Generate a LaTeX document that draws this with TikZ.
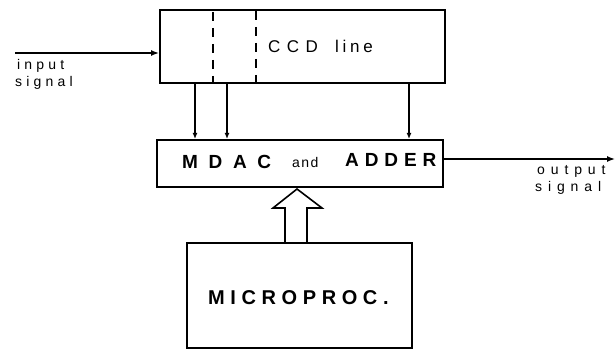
\documentclass[tikz,border=0pt]{standalone}
\usepackage{fontspec}
\setmainfont{Liberation Sans}
\newfontfamily\mdacfam[LetterSpace=56]{Liberation Sans}
\newfontfamily\adderfam[LetterSpace=31]{Liberation Sans}
\newfontfamily\mpbfam[LetterSpace=28]{Liberation Sans}
\newfontfamily\andfam[LetterSpace=10]{Liberation Sans}
\newfontfamily\ccdfam[LetterSpace=38]{Liberation Sans}
\newfontfamily\linefam[LetterSpace=22]{Liberation Sans}
\newfontfamily\infam[LetterSpace=30]{Liberation Sans}
\newfontfamily\outfam[LetterSpace=42]{Liberation Sans}
\usetikzlibrary{arrows.meta,calc}
\begin{document}
\begin{tikzpicture}[x=1pt,y=-1pt,
  box/.style={draw, line width=2pt, inner sep=0pt, fill=white},
  sig/.style={line width=1.4pt, -{Latex[length=8pt,width=6pt]}},
  tap/.style={line width=1.2pt, -{Latex[length=6pt,width=5pt]}},
  txt/.style={anchor=base west, inner sep=0pt}]
\useasboundingbox (0,0) rectangle (616,355);
% boxes
\node[box, minimum width=285pt, minimum height=73pt] (ccd) at (302.5,46.5) {};
\node[box, minimum width=286pt, minimum height=47pt] (mdac) at (300,163.5) {};
\node[box, minimum width=225pt, minimum height=105pt] (mp) at (299.5,295.5) {};
% dashed separators
\draw[line width=1.1pt, dash pattern=on 9pt off 7pt] (213,12) -- (213,82);
\draw[line width=1.1pt, dash pattern=on 9pt off 7pt] (256,11) -- (256,82);
% texts
\node[txt, font=\ccdfam\fontsize{17}{19}\selectfont] (ccdl) at (268,53) {CCD};
\node[txt, font=\linefam\fontsize{17}{19}\selectfont] (linel) at (335,53) {line};
\node[txt, font=\mdacfam\bfseries\fontsize{19}{21}\selectfont] (mdacl) at (182,169) {MDAC};
\node[txt, font=\andfam\fontsize{14}{16}\selectfont] (andl) at (292,168) {and};
\node[txt, font=\adderfam\bfseries\fontsize{19}{21}\selectfont] (adderl) at (345,167) {ADDER};
\node[txt, font=\mpbfam\bfseries\fontsize{20}{22}\selectfont] (mpl) at (208,305) {MICROPROC.};
% input / output
\coordinate (in) at (15,53);
\coordinate (out) at (615,159);
\draw[sig] (in) -- (in -| ccd.west);
\draw[sig] (mdac.east |- out) -- (out);
\node[txt, font=\infam\fontsize{14}{16}\selectfont] (inl1) at (17,70) {input};
\node[txt, font=\infam\fontsize{14}{16}\selectfont] (inl2) at (15,87) {signal};
\node[txt, font=\outfam\fontsize{14}{16}\selectfont] (outl1) at (537,175) {output};
\node[txt, font=\outfam\fontsize{14}{16}\selectfont] (outl2) at (535,192) {signal};
% taps
\foreach \x/\n in {195/a,227/b,409/c}{
  \coordinate (t\n) at (\x,0);
  \draw[tap] (ccd.south -| t\n) -- (mdac.north -| t\n);
}
% hollow arrow
\draw[line width=1.6pt, fill=white, line join=miter]
  ($(mp.north)+(-14.5,0)$) -- ($(mp.north)+(-14.5,-34)$) -- ($(mp.north)+(-26.5,-34)$)
  -- ($(mdac.south)+(-3,1)$) -- ($(mp.north)+(22.5,-34)$) -- ($(mp.north)+(7.5,-34)$)
  -- ($(mp.north)+(7.5,0)$);
\end{tikzpicture}
\end{document}
